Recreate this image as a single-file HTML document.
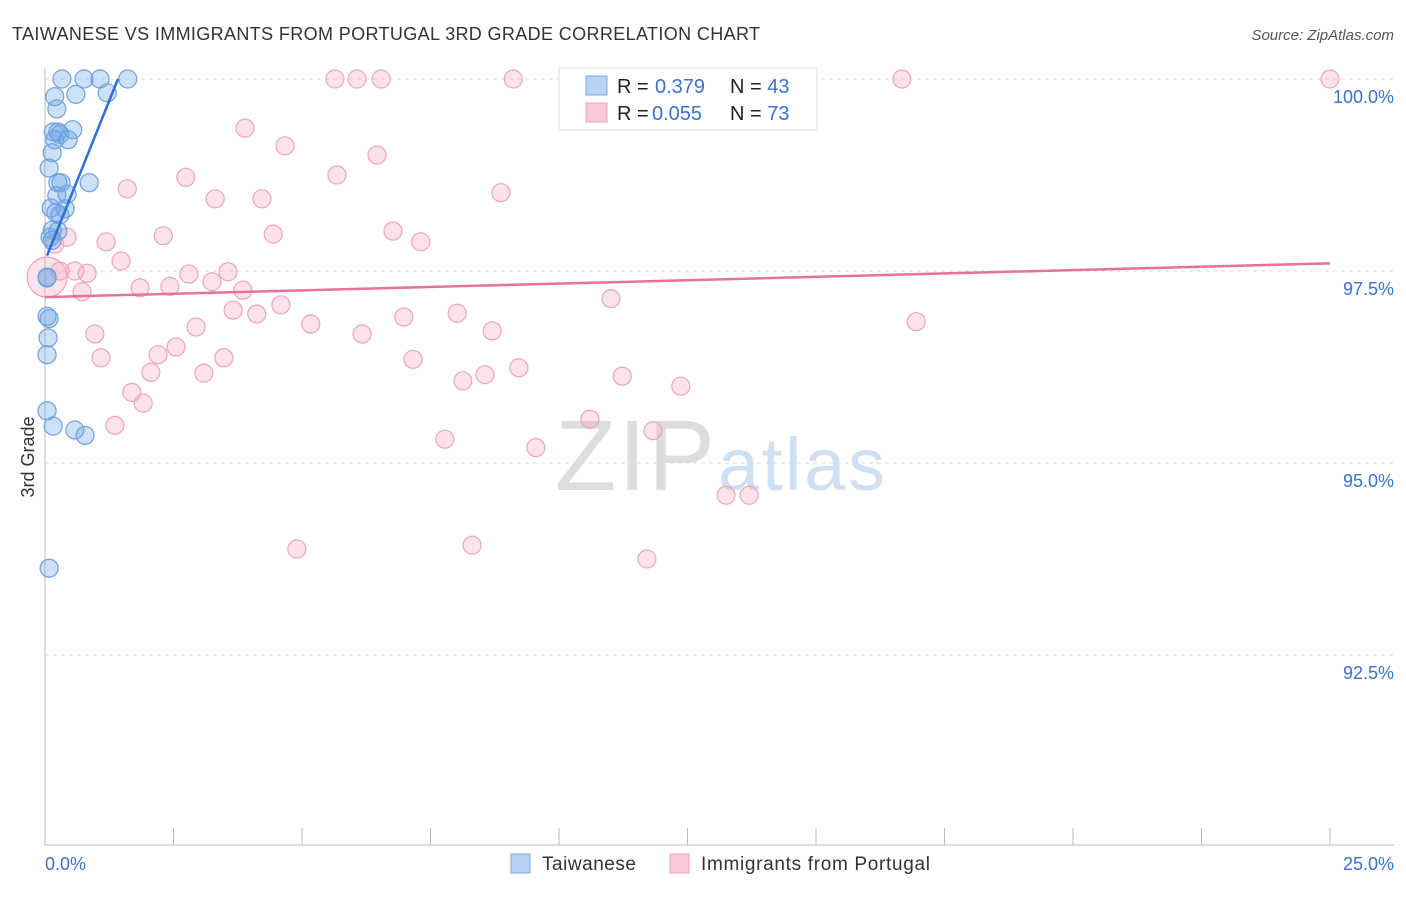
<!DOCTYPE html>
<html><head><meta charset="utf-8"><style>
body{margin:0;background:#fff;font-family:"Liberation Sans",sans-serif;}
svg text{font-family:"Liberation Sans",sans-serif;}
</style></head><body>
<svg id="c" width="1406" height="892" xmlns="http://www.w3.org/2000/svg">
<text x="12" y="40" font-size="18" fill="#333" textLength="748">TAIWANESE VS IMMIGRANTS FROM PORTUGAL 3RD GRADE CORRELATION CHART</text>
<text x="1394" y="40" font-size="15" fill="#555" font-style="italic" text-anchor="end">Source: ZipAtlas.com</text>
<text x="34" y="457" font-size="18" fill="#333" text-anchor="middle" transform="rotate(-90 34 457)">3rd Grade</text>
<text x="555" y="490" font-size="100" fill="#ddd" textLength="160" font-family="Liberation Serif">ZIP</text>
<text x="718" y="490" font-size="74" fill="#cfe0f3" textLength="167">atlas</text>
<g id="grid"></g><g id="pts"></g><g id="lines"></g>
<g>
<rect x="559" y="68" width="258" height="62" fill="#fff" stroke="#ddd"/>
<rect x="586" y="76" width="21" height="19" fill="#b6d3f5" stroke="#7aaae6"/>
<rect x="586" y="103" width="21" height="19" fill="#fac8d6" stroke="#eea4bc"/>
<text x="617" y="93" font-size="20" fill="#222">R = <tspan x="655" fill="#3a72d0">0.379</tspan><tspan x="730">N = </tspan><tspan fill="#3a72d0">43</tspan></text>
<text x="617" y="120" font-size="20" fill="#222">R = <tspan x="652" fill="#3a72d0">0.055</tspan><tspan x="730">N = </tspan><tspan fill="#3a72d0">73</tspan></text>
</g>
<g>
<rect x="511" y="854" width="19" height="19" fill="#b6d3f5" stroke="#7aaae6"/>
<text x="542" y="870" font-size="19" fill="#333" textLength="94">Taiwanese</text>
<rect x="670" y="854" width="19" height="19" fill="#fac8d6" stroke="#eea4bc"/>
<text x="701" y="870" font-size="19" fill="#333" textLength="229">Immigrants from Portugal</text>
</g>
<text x="45" y="870" font-size="18" fill="#3a72d0">0.0%</text>
<text x="1394" y="870" font-size="18" fill="#3a72d0" text-anchor="end">25.0%</text>
</svg>
<script>
const yTicks=[100,97.5,95,92.5];
const yTickLabels=["100.0%","97.5%","95.0%","92.5%"];
const blueX=[0.33,0.76,1.07,1.61,0.19,0.60,1.21,0.23,0.16,0.25,0.29,0.54,0.19,0.45,0.14,0.08,0.25,0.31,0.86,0.23,0.43,0.12,0.21,0.29,0.39,0.14,0.25,0.10,0.14,0.04,0.04,0.04,0.08,0.06,0.04,0.04,0.16,0.58,0.78,0.08];
const blueY=[100,100,100,100,99.77,99.80,99.82,99.61,99.31,99.31,99.28,99.34,99.21,99.21,99.04,98.84,98.65,98.65,98.65,98.48,98.50,98.32,98.26,98.23,98.31,98.03,98.02,97.94,97.90,97.42,97.41,96.91,96.88,96.63,96.41,95.68,95.48,95.43,95.36,93.63];
const pinkX=[5.64,6.07,6.54,9.11,13.87,16.67,25.0,3.89,4.67,6.46,2.74,5.68,1.60,8.87,3.31,4.22,0.43,1.19,2.30,4.44,6.77,7.31,0.19,1.48,0.29,0.58,0.82,2.80,3.56,3.25,1.85,2.43,3.85,0.72,4.59,11.01,3.66,4.12,6.98,8.02,2.94,5.17,0.97,6.17,8.70,16.95,2.55,1.09,2.20,3.48,7.16,2.06,3.09,8.13,8.56,9.22,11.23,12.37,1.69,1.91,10.60,1.36,7.78,11.83,9.55,13.25,13.70,4.90,8.31,11.71,0.04];
const pinkY=[100,100,100,100,100,100,100,99.36,99.13,99.01,98.72,98.75,98.57,98.52,98.44,98.44,97.94,97.88,97.96,97.98,98.02,97.88,97.85,97.63,97.50,97.50,97.47,97.46,97.49,97.36,97.28,97.30,97.25,97.23,97.06,97.14,96.99,96.94,96.90,96.95,96.77,96.81,96.68,96.68,96.72,96.84,96.51,96.37,96.41,96.37,96.35,96.18,96.17,96.07,96.15,96.24,96.13,96.00,95.92,95.78,95.57,95.49,95.31,95.42,95.20,94.58,94.58,93.88,93.93,93.75,97.42];
const pinkSize=[9,9,9,9,9,9,9,9,9,9,9,9,9,9,9,9,9,9,9,9,9,9,9,9,9,9,9,9,9,9,9,9,9,9,9,9,9,9,9,9,9,9,9,9,9,9,9,9,9,9,9,9,9,9,9,9,9,9,9,9,9,9,9,9,9,9,9,9,9,9,20];
const blueTrendX=[0.04,1.42], blueTrendY=[97.70,100];
const pinkTrendX=[0,25], pinkTrendY=[97.16,97.60];
const NS="http://www.w3.org/2000/svg";
const sx=v=>45+v/25*1285;
const sy=v=>79+(100-v)/2.5*192;
function mk(tag,attrs,parent){const e=document.createElementNS(NS,tag);for(const k in attrs)e.setAttribute(k,attrs[k]);parent.appendChild(e);return e;}
const grid=document.getElementById('grid');
yTicks.forEach((t,i)=>{
 const l=mk('line',{x1:45,x2:1394,y1:sy(t),y2:sy(t),stroke:'#ddd','stroke-dasharray':'4,4'},grid);
 
 
 const tx=mk('text',{x:1394,y:sy(t)+24,'font-size':18,fill:'#3a72d0','text-anchor':'end'},grid);
 tx.textContent=yTickLabels[i];
 
 
});
const ax=mk('line',{x1:45,x2:1394,y1:845,y2:845,stroke:'#bbb'},grid);


const ay=mk('line',{x1:45,x2:45,y1:68,y2:845,stroke:'#bbb'},grid);


for(let i=0;i<=10;i++){
 const t=mk('line',{x1:sx(i*2.5),x2:sx(i*2.5),y1:828,y2:845,stroke:'#bbb'},grid);
 
 
}
const pts=document.getElementById('pts');
pinkX.forEach((x,i)=>{
 const c=mk('circle',{cx:sx(x),cy:sy(pinkY[i]),r:pinkSize[i],fill:'rgba(245,160,190,0.3)',stroke:'#eea4bc','stroke-width':1.2},pts);
 
 
});
blueX.forEach((x,i)=>{
 const c=mk('circle',{cx:sx(x),cy:sy(blueY[i]),r:9,fill:'rgba(110,165,230,0.35)',stroke:'#6fa0e0','stroke-width':1.2},pts);
 
 
});
const lines=document.getElementById('lines');
const bl=mk('line',{x1:sx(blueTrendX[0]),y1:sy(blueTrendY[0]),x2:sx(blueTrendX[1]),y2:sy(blueTrendY[1]),stroke:'#2f6fd6','stroke-width':2.5},lines);


const pl=mk('line',{x1:sx(pinkTrendX[0]),y1:sy(pinkTrendY[0]),x2:sx(pinkTrendX[1]),y2:sy(pinkTrendY[1]),stroke:'#e8709a','stroke-width':2.5},lines);


</script>
</body></html>
